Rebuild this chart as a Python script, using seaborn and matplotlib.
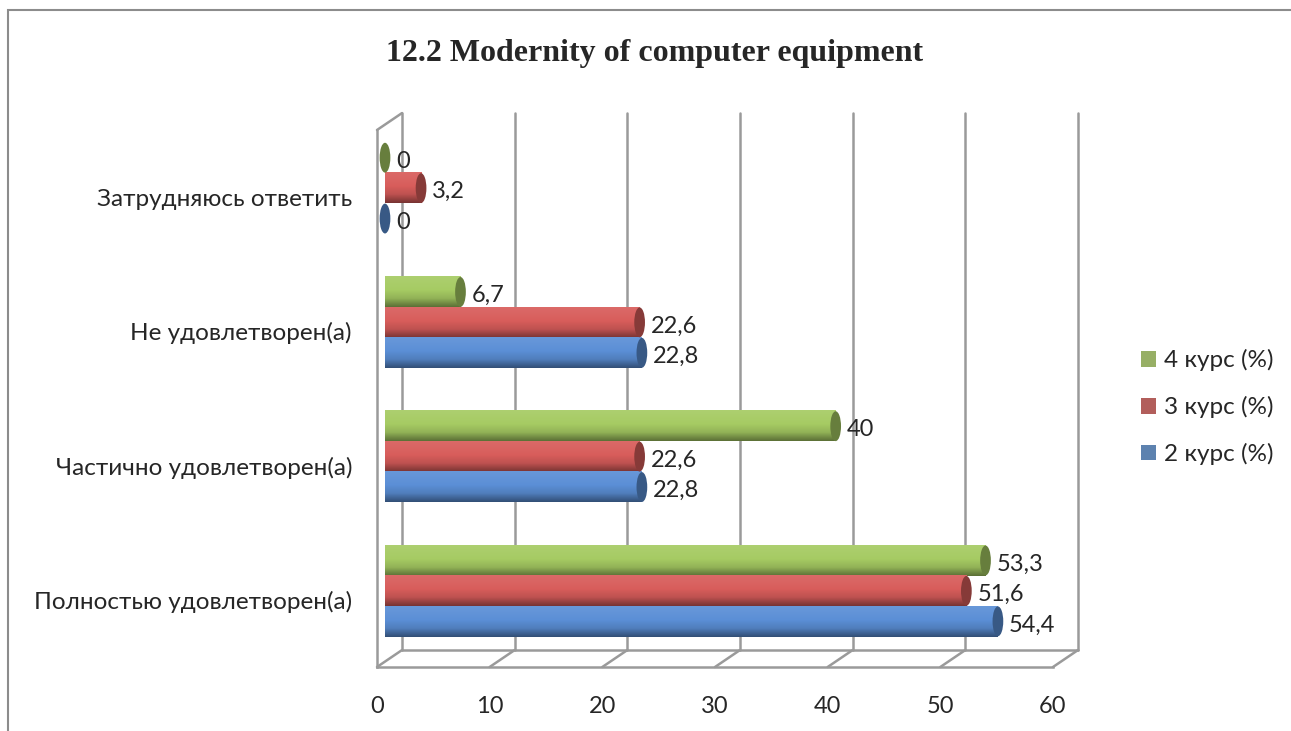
import numpy as np
import pandas as pd
import matplotlib
matplotlib.use('Agg')
import matplotlib.pyplot as plt
import seaborn as sns
from matplotlib.colors import LinearSegmentedColormap, to_rgb
from matplotlib.patches import Ellipse, Rectangle
from matplotlib.transforms import ScaledTranslation

# data
categories = ['Затрудняюсь ответить', 'Не удовлетворен(а)',
              'Частично удовлетворен(а)', 'Полностью удовлетворен(а)']
series = ['4 курс (%)', '3 курс (%)', '2 курс (%)']
kurs4 = [0, 6.7, 40, 53.3]
kurs3 = [3.2, 22.6, 22.6, 51.6]
kurs2 = [0, 22.8, 22.8, 54.4]
x_ticks = [0, 10, 20, 30, 40, 50, 60]

# legend colours and the lighter bar-face colours
colors = {'4 курс (%)': '#9BBB59', '3 курс (%)': '#C0504D', '2 курс (%)': '#4F81BD'}
faces = {'4 курс (%)': '#A6CB63', '3 курс (%)': '#D85D5B', '2 курс (%)': '#5B8FD6'}

df = pd.DataFrame({
    'category': categories * 3,
    'series': [series[0]] * 4 + [series[1]] * 4 + [series[2]] * 4,
    'value': kurs4 + kurs3 + kurs2,
})

sns.set_style('white')
plt.rcParams['font.family'] = ['Lato', 'DejaVu Sans']
FS = 17
GRID = '#9a9a9a'

fig = plt.figure(figsize=(12.91, 7.31), dpi=100)
# axes = front plane of the 3d box
ax = fig.add_axes([377 / 1291, 1 - 667 / 731, 676 / 1291, 537 / 731])

sns.barplot(data=df, x='value', y='category', hue='series', hue_order=series,
            order=categories, palette=colors, orient='h', width=0.68,
            ax=ax, legend=True, edgecolor='none', linewidth=0, zorder=3)

ax.set_xlim(0, 60)
ax.set_ylim(3.5, -0.5)

# depth offsets (pixels -> inches): bars sit mid-depth, grid on the back wall
bar_off = ScaledTranslation(8 / 100, 9 / 100, fig.dpi_scale_trans)
lab_off = ScaledTranslation(19 / 100, 8 / 100, fig.dpi_scale_trans)
back_off = ScaledTranslation(25 / 100, 17 / 100, fig.dpi_scale_trans)


def shade(c, f):
    r = np.array(to_rgb(c))
    return tuple(r * f) if f < 1 else tuple(r + (1 - r) * (f - 1))


# cylinder look: vertical gradient on each bar plus an elliptic end cap
for cont, name in zip(ax.containers, series):
    base = faces[name]
    cmap = LinearSegmentedColormap.from_list(
        name, [(0, shade(base, 1.08)), (0.45, base), (0.72, shade(base, 0.88)),
               (1, shade(base, 0.55))])
    grad = np.linspace(0, 1, 64).reshape(-1, 1)
    for p, v in zip(cont.patches, cont.datavalues):
        p.set_transform(ax.transData + bar_off)
        x0, y0 = p.get_x(), p.get_y()
        w, h = p.get_width(), p.get_height()
        if w > 0:
            im = ax.imshow(grad, cmap=cmap, aspect='auto', extent=[x0, x0 + w, y0 + h, y0],
                           zorder=4, interpolation='bilinear')
            im.set_transform(ax.transData + bar_off)
        ax.add_patch(Ellipse((x0 + w, y0 + h / 2), 0.95, h * 0.98,
                             facecolor=shade(base, 0.62), edgecolor='none', zorder=5,
                             transform=ax.transData + bar_off))
        ax.text(x0 + w, y0 + h / 2 + 0.02, f'{v:g}'.replace('.', ','), fontsize=FS,
                va='center', ha='left', zorder=6, transform=ax.transData + lab_off)

ax.set_xlim(0, 60)
ax.set_ylim(3.5, -0.5)

ax.set_xticks(x_ticks)
ax.set_xticklabels([str(t) for t in x_ticks], fontsize=FS)
ax.set_yticks(np.arange(-0.5, 4, 1), minor=True)
ax.tick_params(axis='y', which='major', length=0, labelsize=17.5, pad=18)
ax.tick_params(axis='y', which='minor', length=7, color=GRID, width=1.5)
ax.tick_params(axis='x', length=6, color=GRID, width=1.5, pad=15, direction='out')
ax.set_xlabel('')
ax.set_ylabel('')

# back wall grid
ax.grid(axis='x', color=GRID, linewidth=1.8, zorder=0)
ax.grid(axis='y', visible=False)
for gl in ax.get_xgridlines():
    gl.set_transform(ax.get_xaxis_transform() + back_off)
    gl.set_clip_on(False)
ax.set_axisbelow(True)

# floor back edge and depth diagonals
ax.plot([0, 1], [0, 0], color=GRID, lw=1.8, transform=ax.transAxes + back_off,
        clip_on=False, zorder=0)
for t in x_ticks:
    ax.annotate('', xy=(t, 0), xycoords=ax.get_xaxis_transform(),
                xytext=(18, 12.2), textcoords='offset points',
                arrowprops=dict(arrowstyle='-', color=GRID, lw=1.8, shrinkA=0, shrinkB=0),
                zorder=0, annotation_clip=False)
ax.annotate('', xy=(0, 1), xycoords='axes fraction', xytext=(18, 12.2),
            textcoords='offset points',
            arrowprops=dict(arrowstyle='-', color=GRID, lw=1.8, shrinkA=0, shrinkB=0),
            zorder=0, annotation_clip=False)

for s in ['top', 'right']:
    ax.spines[s].set_visible(False)
for s in ['left', 'bottom']:
    ax.spines[s].set_color(GRID)
    ax.spines[s].set_linewidth(1.8)

handles, labs = ax.get_legend_handles_labels()
fig.legend(handles, labs, loc='center left', bbox_to_anchor=(0.867, 0.443),
           frameon=False, fontsize=17.5, handlelength=0.62, handleheight=0.62,
           labelspacing=1.02, handletextpad=0.3)
ax.get_legend().remove()

fig.text(0.507, 0.927, '12.2 Modernity of computer equipment', ha='center', va='center',
         fontsize=23, fontweight='bold', family='Liberation Serif')

fig.patches.append(Rectangle((8 / 1291, -0.01), 1.0, (731 - 10) / 731 + 0.01,
                             transform=fig.transFigure, fill=False,
                             edgecolor='#8c8c8c', linewidth=1.5))

fig.savefig('out.png', dpi=100)
